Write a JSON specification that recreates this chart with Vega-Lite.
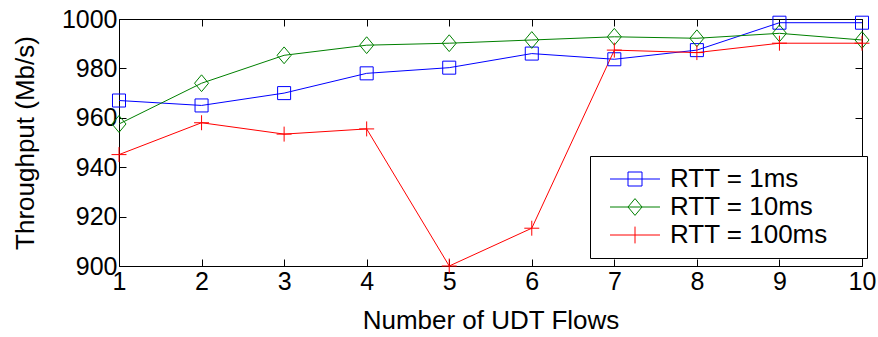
{
  "$schema": "https://vega.github.io/schema/vega-lite/v6.json",
  "width": 743,
  "height": 247,
  "autosize": {"type": "none"},
  "padding": {"left": 119, "top": 19, "right": 16, "bottom": 71},
  "background": "white",
  "config": {
    "font": "Liberation Sans",
    "view": {"stroke": "black", "strokeWidth": 1},
    "axis": {
      "grid": false,
      "domain": false,
      "tickColor": "black",
      "tickWidth": 1,
      "tickSize": -7,
      "labelColor": "black",
      "labelFontSize": 25,
      "labelFont": "Liberation Sans",
      "titleFontSize": 26,
      "titleFont": "Liberation Sans",
      "titleFontWeight": "normal",
      "titleColor": "black",
      "labelFlush": false,
      "labelOverlap": false
    }
  },
  "data": {
    "values": [
      {"x": 1, "y": 967, "series": "RTT = 1ms"},
      {"x": 2, "y": 965, "series": "RTT = 1ms"},
      {"x": 3, "y": 970, "series": "RTT = 1ms"},
      {"x": 4, "y": 978, "series": "RTT = 1ms"},
      {"x": 5, "y": 980.3, "series": "RTT = 1ms"},
      {"x": 6, "y": 986, "series": "RTT = 1ms"},
      {"x": 7, "y": 983.7, "series": "RTT = 1ms"},
      {"x": 8, "y": 987.4, "series": "RTT = 1ms"},
      {"x": 9, "y": 998.5, "series": "RTT = 1ms"},
      {"x": 10, "y": 998.5, "series": "RTT = 1ms"},
      {"x": 1, "y": 957.5, "series": "RTT = 10ms"},
      {"x": 2, "y": 974, "series": "RTT = 10ms"},
      {"x": 3, "y": 985.3, "series": "RTT = 10ms"},
      {"x": 4, "y": 989.4, "series": "RTT = 10ms"},
      {"x": 5, "y": 990.2, "series": "RTT = 10ms"},
      {"x": 6, "y": 991.5, "series": "RTT = 10ms"},
      {"x": 7, "y": 992.8, "series": "RTT = 10ms"},
      {"x": 8, "y": 992.2, "series": "RTT = 10ms"},
      {"x": 9, "y": 994.2, "series": "RTT = 10ms"},
      {"x": 10, "y": 991.5, "series": "RTT = 10ms"},
      {"x": 1, "y": 945.1, "series": "RTT = 100ms"},
      {"x": 2, "y": 958, "series": "RTT = 100ms"},
      {"x": 3, "y": 953.4, "series": "RTT = 100ms"},
      {"x": 4, "y": 955.5, "series": "RTT = 100ms"},
      {"x": 5, "y": 900, "series": "RTT = 100ms"},
      {"x": 6, "y": 915.3, "series": "RTT = 100ms"},
      {"x": 7, "y": 987.4, "series": "RTT = 100ms"},
      {"x": 8, "y": 986.4, "series": "RTT = 100ms"},
      {"x": 9, "y": 990.2, "series": "RTT = 100ms"},
      {"x": 10, "y": 990.2, "series": "RTT = 100ms"}
    ]
  },
  "layer": [
    {
      "mark": {"type": "line", "strokeWidth": 1},
      "encoding": {
        "x": {
          "field": "x", "type": "quantitative",
          "scale": {"domain": [1, 10], "nice": false, "zero": false},
          "axis": {"orient": "bottom", "values": [1, 2, 3, 4, 5, 6, 7, 8, 9, 10], "format": "d", "labelPadding": 10, "title": "Number of UDT Flows", "titlePadding": 13}
        },
        "y": {
          "field": "y", "type": "quantitative",
          "scale": {"domain": [900, 1000], "nice": false, "zero": false},
          "axis": {"orient": "left", "values": [900, 920, 940, 960, 980, 1000], "format": "d", "labelPadding": 9, "title": "Throughput (Mb/s)", "titlePadding": 23}
        },
        "color": {
          "field": "series", "type": "nominal",
          "scale": {"domain": ["RTT = 1ms", "RTT = 10ms", "RTT = 100ms"], "range": ["#0000ff", "#008000", "#ff0000"]},
          "legend": {
            "title": null,
            "orient": "none",
            "legendX": 471,
            "legendY": 137,
            "padding": 10,
            "strokeColor": "black",
            "fillColor": "white",
            "cornerRadius": 0,
            "symbolSize": 196,
            "symbolStrokeWidth": 1,
            "symbolOffset": 22,
            "labelOffset": 22,
            "labelFontSize": 26,
            "labelColor": "black",
            "labelFont": "Liberation Sans",
            "labelLimit": 400,
            "rowPadding": 2,
            "encode": {
              "symbols": {
                "update": {
                  "shape": {"signal": "datum.value === 'RTT = 1ms' ? 'M-3.57,0H3.57M-1,-1H1V1H-1ZM31.4,0' : datum.value === 'RTT = 10ms' ? 'M-3.57,0H3.57M-1,0L0,-1.2L1,0L0,1.2ZM31.4,0' : 'M-3.57,0H3.57M0,-1.2V1.2M31.4,0'"},
                  "fill": {"value": "transparent"},
                  "strokeWidth": {"value": 1}
                }
              }
            }
          }
        }
      }
    },
    {
      "transform": [{"filter": "datum.series === 'RTT = 1ms'"}],
      "mark": {"type": "point", "filled": false, "strokeWidth": 1, "opacity": 1, "size": 196, "shape": "M-0.93,-0.93H0.93V0.93H-0.93Z"},
      "encoding": {
        "x": {
          "field": "x", "type": "quantitative",
          "scale": {"domain": [1, 10], "nice": false, "zero": false},
          "axis": {"orient": "top", "values": [1, 2, 3, 4, 5, 6, 7, 8, 9, 10], "labels": false, "title": null}
        },
        "y": {
          "field": "y", "type": "quantitative",
          "scale": {"domain": [900, 1000], "nice": false, "zero": false},
          "axis": {"orient": "right", "values": [900, 920, 940, 960, 980, 1000], "labels": false, "title": null}
        },
        "color": {"field": "series", "type": "nominal"}
      }
    },
    {
      "transform": [{"filter": "datum.series === 'RTT = 10ms'"}],
      "mark": {"type": "point", "filled": false, "strokeWidth": 1, "opacity": 1, "size": 196, "shape": "M-1,0L0,-1.2L1,0L0,1.2Z"},
      "encoding": {
        "x": {"field": "x", "type": "quantitative", "axis": null},
        "y": {"field": "y", "type": "quantitative", "axis": null},
        "color": {"field": "series", "type": "nominal"}
      }
    },
    {
      "transform": [{"filter": "datum.series === 'RTT = 100ms'"}],
      "mark": {"type": "point", "filled": false, "strokeWidth": 1, "opacity": 1, "size": 196, "shape": "M-1.07,0H1.07M0,-1.07V1.07"},
      "encoding": {
        "x": {"field": "x", "type": "quantitative", "axis": null},
        "y": {"field": "y", "type": "quantitative", "axis": null},
        "color": {"field": "series", "type": "nominal"}
      }
    }
  ],
  "resolve": {"axis": {"x": "independent", "y": "independent"}}
}
